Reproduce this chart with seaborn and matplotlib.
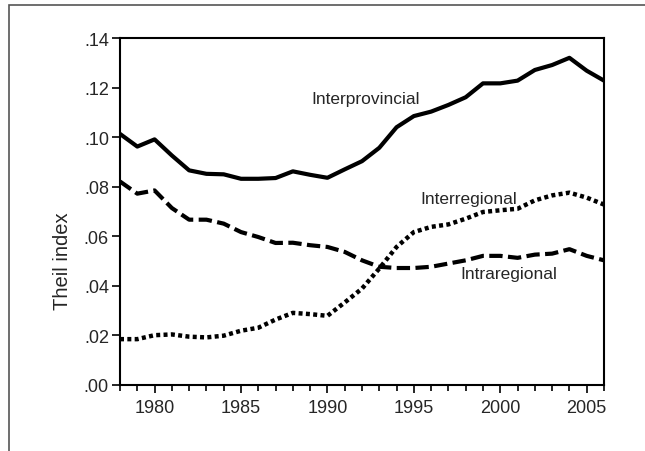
import numpy as np
import pandas as pd
import seaborn as sns
import matplotlib.pyplot as plt
from matplotlib.ticker import MultipleLocator, FuncFormatter
from matplotlib.patches import Rectangle

# Data
years = list(range(1978, 2007))
interprovincial = [0.1013, 0.0962, 0.0991, 0.0926, 0.0866, 0.0852, 0.0850, 0.0832, 0.0832, 0.0835,
                   0.0862, 0.0848, 0.0836, 0.0870, 0.0903, 0.0957, 0.1040, 0.1085, 0.1103, 0.1130,
                   0.1161, 0.1217, 0.1217, 0.1228, 0.1271, 0.1291, 0.1320, 0.1268, 0.1228]
interregional = [0.0185, 0.0185, 0.0201, 0.0204, 0.0195, 0.0192, 0.0199, 0.0219, 0.0231, 0.0264,
                 0.0291, 0.0286, 0.0279, 0.0333, 0.0389, 0.0470, 0.0557, 0.0617, 0.0638, 0.0648,
                 0.0671, 0.0698, 0.0705, 0.0711, 0.0745, 0.0765, 0.0776, 0.0756, 0.0728]
intraregional = [0.0821, 0.0772, 0.0785, 0.0714, 0.0667, 0.0667, 0.0651, 0.0617, 0.0597, 0.0573,
                 0.0574, 0.0564, 0.0557, 0.0537, 0.0503, 0.0477, 0.0472, 0.0472, 0.0477, 0.0490,
                 0.0503, 0.0521, 0.0521, 0.0513, 0.0526, 0.0530, 0.0548, 0.0521, 0.0503]

df = pd.DataFrame({'year': years, 'Interprovincial': interprovincial,
                   'Interregional': interregional, 'Intraregional': intraregional})

sns.set_style('ticks')
plt.rcParams['font.family'] = ['Liberation Sans', 'DejaVu Sans']

fig = plt.figure(figsize=(6.45, 4.52), dpi=100)
ax = fig.add_axes([120 / 645, 1 - 386 / 452, 484 / 645, 347 / 452])

# outer frame (cut off at right and bottom)
fig.patches.append(Rectangle((9 / 645, -0.1), 1.2, 1 - 6 / 452 + 0.1, transform=fig.transFigure,
                             fill=False, edgecolor='#555555', linewidth=1.2))

sns.lineplot(data=df, x='year', y='Interprovincial', ax=ax, color='black', linewidth=3)
sns.lineplot(data=df, x='year', y='Interregional', ax=ax, color='black', linewidth=3.2,
             linestyle=(0, (0.9, 0.75)))
sns.lineplot(data=df, x='year', y='Intraregional', ax=ax, color='black', linewidth=3,
             linestyle=(0, (3.2, 1.3)))

ax.set_xlim(1978, 2006)
ax.set_ylim(0, 0.14)
ax.xaxis.set_major_locator(MultipleLocator(5))
ax.xaxis.set_minor_locator(MultipleLocator(1))
ax.yaxis.set_major_locator(MultipleLocator(0.02))
ax.yaxis.set_major_formatter(FuncFormatter(lambda v, p: f'{v:.2f}'[1:]))
ax.tick_params(axis='both', which='major', length=6, width=1.2, labelsize=13, color='black')
ax.tick_params(axis='x', which='minor', length=4, width=1.2, color='black')
ax.tick_params(axis='x', pad=4)
ax.tick_params(axis='y', pad=2)
for s in ax.spines.values():
    s.set_linewidth(1.5)
    s.set_color('black')

ax.set_xlabel('')
ax.set_ylabel('Theil index', fontsize=14.5)
ax.yaxis.set_label_coords(-0.099, 0.36)

ax.text(1992.2, 0.1154, 'Interprovincial', fontsize=12.5, ha='center', va='center')
ax.text(1998.2, 0.0752, 'Interregional', fontsize=12.5, ha='center', va='center')
ax.text(2000.5, 0.0450, 'Intraregional', fontsize=12.5, ha='center', va='center')

fig.savefig('out.png', dpi=100)
